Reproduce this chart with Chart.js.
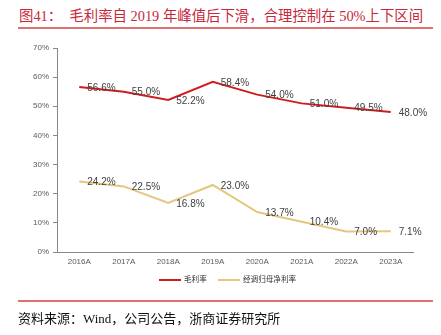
<!DOCTYPE html>
<html>
<head>
<meta charset="utf-8">
<script src="https://cdn.jsdelivr.net/npm/chart.js@4"></script>
<style>
  body { margin: 0; background: #fff; width: 441px; height: 335px; position: relative; overflow: hidden; }
  #title { position: absolute; left: 19px; top: 4px; font: 14.4px "Liberation Serif", "Noto Sans CJK SC", serif; color: #c8283c; white-space: nowrap; }
  .rule { position: absolute; left: 18px; width: 415px; height: 2px; background: #e07070; }
  #src { position: absolute; left: 18px; top: 308px; font: 13px "Liberation Serif", "Noto Sans CJK SC", serif; color: #111; white-space: nowrap; }
  #wrap { position: absolute; left: 0; top: 0; width: 441px; height: 300px; }
  .leg { position: absolute; top: 273px; height: 12px; font: 7.6px "Noto Sans CJK SC", sans-serif; color: #333; white-space: nowrap; line-height: 12px; }
  .leg i { display: inline-block; width: 22px; height: 2px; vertical-align: middle; margin-right: 3px; }
</style>
</head>
<body>
<div id="title">图41：&nbsp;&nbsp;毛利率自 2019 年峰值后下滑，合理控制在 50%上下区间</div>
<div class="rule" style="top:27px"></div>
<div id="wrap"><canvas id="chart1"></canvas></div>
<div id="legend"></div>
<div class="rule" style="top:300px"></div>
<div id="src">资料来源：Wind，公司公告，浙商证券研究所</div>
<script>
// 数据
const years = ['2016A', '2017A', '2018A', '2019A', '2020A', '2021A', '2022A', '2023A'];
const grossMargin = [56.6, 55.0, 52.2, 58.4, 54.0, 51.0, 49.5, 48.0];
const netMargin = [24.2, 22.5, 16.8, 23.0, 13.7, 10.4, 7.0, 7.1];
const seriesNames = ['毛利率', '经调归母净利率'];
const seriesColors = ['#d01c1c', '#e3c77e'];

// 数值标签，画在点的右边
const valueLabels = {
    id: 'valueLabels',
    afterDatasetsDraw(chart) {
        const ctx = chart.ctx;
        ctx.save();
        ctx.font = '10px "Liberation Sans", Arial, sans-serif';
        ctx.fillStyle = '#404040';
        ctx.textBaseline = 'middle';
        chart.data.datasets.forEach((ds, i) => {
            chart.getDatasetMeta(i).data.forEach((pt, j) => {
                ctx.fillText(ds.data[j].toFixed(1) + '%', pt.x + 8, pt.y + 1);
            });
        });
        ctx.restore();
    }
};

const ctx = document.querySelector('#chart1').getContext('2d');
const chart = new Chart(ctx, {
    type: 'line',
    data: {
        labels: years,
        datasets: [{
            label: seriesNames[0],
            data: grossMargin,
            borderColor: seriesColors[0],
            backgroundColor: seriesColors[0],
            borderWidth: 2,
            pointRadius: 0,
            tension: 0
        }, {
            label: seriesNames[1],
            data: netMargin,
            borderColor: seriesColors[1],
            backgroundColor: seriesColors[1],
            borderWidth: 2,
            pointRadius: 0,
            tension: 0
        }]
    },
    options: {
        responsive: true,
        maintainAspectRatio: false,
        animation: false,
        layout: { padding: { left: 0, right: 28, top: 48, bottom: 30 } },
        plugins: {
            tooltip: { enabled: false },
            legend: { display: false }
        },
        scales: {
            x: {
                offset: true,
                afterFit(scale) { scale.height = 18; },
                grid: { display: false, drawOnChartArea: false, offset: true, tickLength: 4, tickColor: '#888' },
                border: { color: '#888' },
                ticks: { color: '#595959', font: { size: 8, family: '"Liberation Sans", Arial, sans-serif' }, padding: 1 }
            },
            y: {
                min: 0,
                max: 70,
                afterFit(scale) { scale.width = 57; },
                grid: { drawOnChartArea: false, tickLength: 4, tickColor: '#888' },
                border: { color: '#888' },
                ticks: {
                    stepSize: 10,
                    color: '#595959',
                    font: { size: 8, family: '"Liberation Sans", Arial, sans-serif' },
                    padding: 4,
                    callback: v => v + '%'
                }
            }
        }
    },
    plugins: [valueLabels]
});

// 图例
const legendX = [159, 218];
chart.data.datasets.forEach((ds, i) => {
    const el = document.createElement('div');
    el.className = 'leg';
    el.style.left = legendX[i] + 'px';
    el.innerHTML = '<i style="background:' + ds.borderColor + '"></i>' + ds.label;
    document.querySelector('#legend').appendChild(el);
});
</script>
</body>
</html>
